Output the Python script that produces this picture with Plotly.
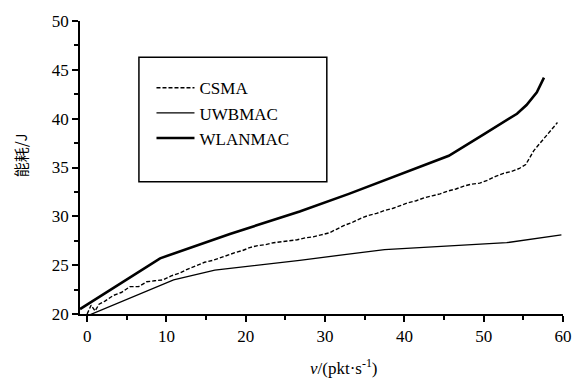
import plotly.graph_objects as go

# ---- data ----
csma_x = [0, 0.5, 1.0, 1.5, 2.2, 3.3, 4.3, 5.4, 6.5, 7.5, 8.5, 9.6, 10.6, 11.7, 12.7,
          13.8, 14.8, 15.9, 16.9, 17.8, 18.7, 19.6, 20.5, 21.5, 22.5, 23.5, 24.5, 25.5,
          26.5, 27.5, 28.5, 29.5, 30.5, 31.5, 32.5, 33.5, 34.5, 35.5, 36.5, 37.5, 38.5,
          39.5, 40.5, 41.5, 42.5, 43.5, 44.5, 45.5, 46.5, 47.5, 48.5, 49.5, 50.5, 51.5,
          52.5, 53.5, 54.5, 55.3, 55.8, 56.3, 56.8, 57.3, 57.8, 58.3, 58.8, 59.3]
csma_y = [20.0, 20.9, 20.3, 21.0, 21.3, 21.9, 22.2, 22.8, 22.8, 23.3, 23.4, 23.5, 23.9,
          24.2, 24.6, 25.0, 25.3, 25.5, 25.8, 26.1, 26.3, 26.5, 26.8, 27.0, 27.1, 27.3,
          27.4, 27.5, 27.6, 27.8, 27.9, 28.1, 28.3, 28.7, 29.1, 29.4, 29.8, 30.1, 30.3,
          30.6, 30.8, 31.1, 31.4, 31.6, 31.9, 32.1, 32.3, 32.6, 32.8, 33.1, 33.3, 33.4,
          33.7, 34.1, 34.4, 34.6, 34.9, 35.3, 36.0, 36.7, 37.2, 37.7, 38.2, 38.6, 39.1, 39.6]

uwb_x = [0, 10.9, 16.1, 26.8, 37.5, 45.0, 52.9, 59.8]
uwb_y = [19.8, 23.5, 24.5, 25.5, 26.6, 26.95, 27.3, 28.1]

wlan_x = [-0.9, 9.2, 18.0, 26.8, 33.0, 40.7, 45.6, 50.0, 54.2, 55.4, 56.7, 57.6]
wlan_y = [20.5, 25.7, 28.2, 30.5, 32.3, 34.7, 36.2, 38.4, 40.5, 41.4, 42.7, 44.2]

series_names = ["CSMA", "UWBMAC", "WLANMAC"]
x_ticks = [0, 10, 20, 30, 40, 50, 60]
y_ticks = [20, 25, 30, 35, 40, 45, 50]

SERIF = "Liberation Serif"

fig = go.Figure()
fig.add_trace(go.Scatter(x=csma_x, y=csma_y, mode="lines", name=series_names[0],
                         line=dict(color="black", width=1.4, dash="4px,2px")))
fig.add_trace(go.Scatter(x=uwb_x, y=uwb_y, mode="lines", name=series_names[1],
                         line=dict(color="black", width=1.3)))
fig.add_trace(go.Scatter(x=wlan_x, y=wlan_y, mode="lines", name=series_names[2],
                         line=dict(color="black", width=2.6)))

axis_common = dict(
    showgrid=False, zeroline=False, showline=True, linecolor="black", linewidth=1.5,
    ticks="outside", ticklen=6, tickwidth=1.5, tickcolor="black",
    tickfont=dict(family=SERIF, size=17, color="black"),
)

fig.update_xaxes(range=[-0.9, 60], tickvals=x_ticks,
                 ticktext=[str(v) for v in x_ticks],
                 minor=dict(ticks="outside", ticklen=4, tickwidth=1.5, tickcolor="black", dtick=5),
                 **axis_common)
fig.update_yaxes(range=[20, 50], tickvals=y_ticks,
                 ticktext=[str(v) for v in y_ticks],
                 minor=dict(ticks="outside", ticklen=4, tickwidth=1.5, tickcolor="black", dtick=2.5),
                 **axis_common)

fig.update_layout(
    width=588, height=383,
    font=dict(family=SERIF, size=17, color="black"),
    margin=dict(l=80, r=25, t=15, b=69),
    paper_bgcolor="white", plot_bgcolor="white",
    showlegend=True,
    legend=dict(x=0.148, y=0.832, xanchor="left", yanchor="top",
                bgcolor="rgba(0,0,0,0)", borderwidth=0,
                font=dict(family=SERIF, size=17, color="black"),
                itemwidth=38, tracegroupgap=0),
    shapes=[dict(type="rect", xref="paper", yref="paper",
                 x0=0.122, x1=0.511, y0=0.4515, y1=0.876,
                 line=dict(color="black", width=1.5), fillcolor="rgba(0,0,0,0)")],
    annotations=[
        dict(text="<i>v</i>/(pkt·s<sup>-1</sup>)", xref="paper", yref="paper",
             x=0.547, y=-0.18, xanchor="center", yanchor="middle", showarrow=False,
             font=dict(family=SERIF, size=17, color="black")),
        dict(text="能耗/J", xref="paper", yref="paper", textangle=-90,
             x=-0.124, y=0.542, xanchor="center", yanchor="middle", showarrow=False,
             font=dict(family="Noto Sans CJK SC", size=15, color="black")),
    ],
)

fig.write_html("out.html")
